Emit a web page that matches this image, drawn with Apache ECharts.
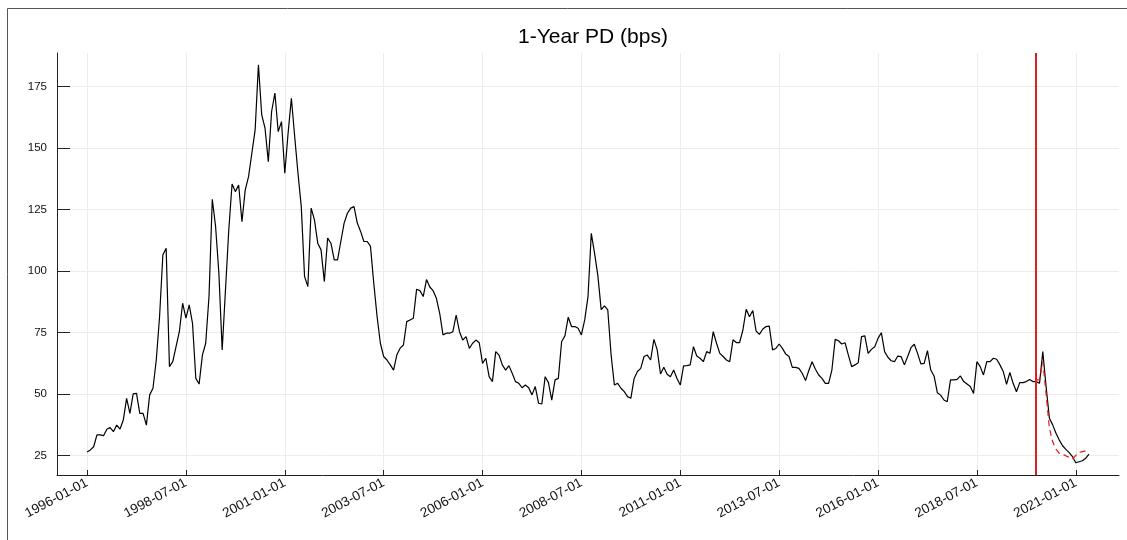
<!DOCTYPE html>
<html><head><meta charset="utf-8">
<script src="https://cdn.jsdelivr.net/npm/echarts@6/dist/echarts.min.js"></script>
<style>html,body{margin:0;padding:0;background:#fff}#c{width:1127px;height:540px}</style>
</head><body><div id="c"></div>
<script>
const startYear = 1996, startMonth = 1;   // first observation: 1996-01
const pd = [
26.4,27.2,28.5,33.3,33.3,33.0,35.6,36.3,34.6,37.3,35.7,39.4,
48.2,42.1,50.0,50.2,42.1,42.1,37.3,49.6,52.3,63.8,81.4,106.5,
109.3,61.1,63.1,69.2,75.3,86.9,80.8,86.2,78.7,56.3,54.0,65.8,
70.6,89.6,129.2,118.1,99.1,67.9,92.3,116.7,135.4,132.3,135.0,120.1,
133.0,138.4,147.9,157.4,183.9,163.5,158.1,144.5,164.9,172.4,156.7,160.8,
139.8,156.1,170.3,154.7,139.8,126.2,97.7,93.7,125.6,120.8,111.3,108.6,
95.7,113.4,111.3,104.5,104.5,112.0,119.5,123.5,125.6,126.2,119.5,116.1,
112.0,112.0,110.0,95.0,81.5,70.6,65.2,63.8,61.8,59.7,65.9,68.6,
69.9,79.4,80.1,80.8,92.6,92.0,89.6,96.5,93.5,92.0,88.9,82.8,
74.0,74.7,74.7,75.3,82.1,75.3,71.9,73.3,68.5,70.6,71.9,70.8,
62.4,64.5,57.0,55.0,67.2,65.8,61.8,59.7,61.5,58.4,55.0,54.3,
52.5,53.6,52.5,49.6,53.0,46.2,45.9,57.0,54.6,47.5,55.7,56.3,
71.3,73.6,81.2,77.4,77.4,76.7,74.0,80.1,89.6,115.3,107.2,98.0,
84.3,85.8,84.2,66.0,53.6,54.3,52.3,50.9,48.9,48.2,56.3,59.1,
60.4,65.2,65.8,63.8,72.2,67.9,58.1,60.8,58.0,57.0,59.7,56.3,
53.6,61.4,61.5,61.8,69.2,65.4,64.5,63.1,67.2,66.5,75.3,70.6,
66.5,65.2,63.8,63.1,72.0,70.9,70.9,76.0,84.4,81.4,83.9,75.6,
74.2,76.3,77.4,77.6,67.9,68.5,70.3,68.5,66.2,65.2,60.8,60.8,
60.4,58.4,55.4,59.5,63.1,60.0,57.7,56.3,54.3,54.3,59.7,72.2,
71.6,70.3,70.8,65.8,61.1,61.8,62.7,73.3,73.6,66.5,68.1,69.2,
72.6,74.9,67.2,64.9,63.5,63.1,65.4,65.2,61.8,65.2,68.8,70.2,
66.5,62.2,62.4,67.6,59.7,57.3,50.5,49.5,47.5,46.8,55.7,55.7,
55.9,57.3,55.0,54.0,53.0,50.2,63.1,61.1,57.7,63.1,63.1,64.5,
64.1,61.8,59.1,53.9,58.7,54.3,50.9,54.6,54.6,55.0,55.9,55.0,
55.0,54.3,67.2,53.0,40.1,37.4,34.0,31.2,28.9,27.4,26.1,24.5,
22.0,22.4,22.8,23.8,25.5
];
const forecastStart = '2020-01';
const forecast = [55.7,55.7,63.0,50.0,36.0,30.5,27.5,25.8,25.5,24.8,24.2,23.5,25.0,26.2,26.5,26.8,27.2];
const tickLabels = ['1996-01-01','1998-07-01','2001-01-01','2003-07-01','2006-01-01','2008-07-01',
                    '2011-01-01','2013-07-01','2016-01-01','2018-07-01','2021-01-01'];
const yTicks = [25,50,75,100,125,150,175];
const breakDate = '2020-01-01';
const titleText = '1-Year PD (bps)';

function monthIndex(s){const p=s.split('-').map(Number);return (p[0]-startYear)*12+(p[1]-startMonth);}
const tickVals = tickLabels.map(monthIndex);
const labelAt = {}; tickLabels.forEach((l,k)=>{labelAt[tickVals[k]]=l;});
const actualData = pd.map((v,i)=>[i,v]);
const f0 = monthIndex(forecastStart);
const forecastData = forecast.map((v,i)=>[f0+i,v]);
const n = pd.length-1;
const xpad = n*0.03;

const chart = echarts.init(document.getElementById('c'),null,{renderer:'canvas'});
const FONT = 'Liberation Sans';
chart.setOption({
  animation:false,
  backgroundColor:'#ffffff',
  title:{text:titleText,left:588,top:22,textAlign:'center',
    textStyle:{fontFamily:FONT,fontSize:21,fontWeight:'normal',color:'#000'}},
  grid:{left:57,right:8,top:53,bottom:65,containLabel:false},
  graphic:[
    {type:'line',silent:true,shape:{x1:7.5,y1:8.5,x2:7.5,y2:540},style:{stroke:'#555',lineWidth:1}},
    {type:'line',silent:true,shape:{x1:7.5,y1:8.5,x2:1127,y2:8.5},style:{stroke:'#555',lineWidth:1}}
  ],
  xAxis:{type:'value',min:-xpad,max:n+xpad,
    axisLine:{show:true,onZero:false,lineStyle:{color:'#222',width:1}},
    axisTick:{show:true,inside:true,length:5,customValues:tickVals,lineStyle:{color:'#222'}},
    axisLabel:{customValues:tickVals,rotate:28,margin:7,fontFamily:FONT,fontSize:13.5,color:'#111',
      formatter:v=>labelAt[Math.round(v)]||''},
    splitLine:{show:true,lineStyle:{color:'#ececec',width:1}}},
  yAxis:{type:'value',min:17.0,max:188.7,
    axisLine:{show:true,onZero:false,lineStyle:{color:'#222',width:1}},
    axisTick:{show:true,inside:true,length:13,customValues:yTicks,lineStyle:{color:'#222'}},
    axisLabel:{customValues:yTicks,margin:10,fontFamily:FONT,fontSize:11.5,color:'#111'},
    splitLine:{show:true,lineStyle:{color:'#ececec',width:1}}},
  series:[
    {type:'line',data:actualData,showSymbol:false,symbol:'none',
      lineStyle:{color:'#000',width:1.2},z:3,
      markLine:{silent:true,symbol:['none','none'],label:{show:false},
        lineStyle:{color:'#e02020',width:2,type:'solid'},
        data:[{xAxis:monthIndex(breakDate)}]}},
    {type:'line',data:forecastData,showSymbol:false,symbol:'none',
      lineStyle:{color:'#e8171a',width:1.2,type:[6,4]},z:4}
  ]
});
</script></body></html>
